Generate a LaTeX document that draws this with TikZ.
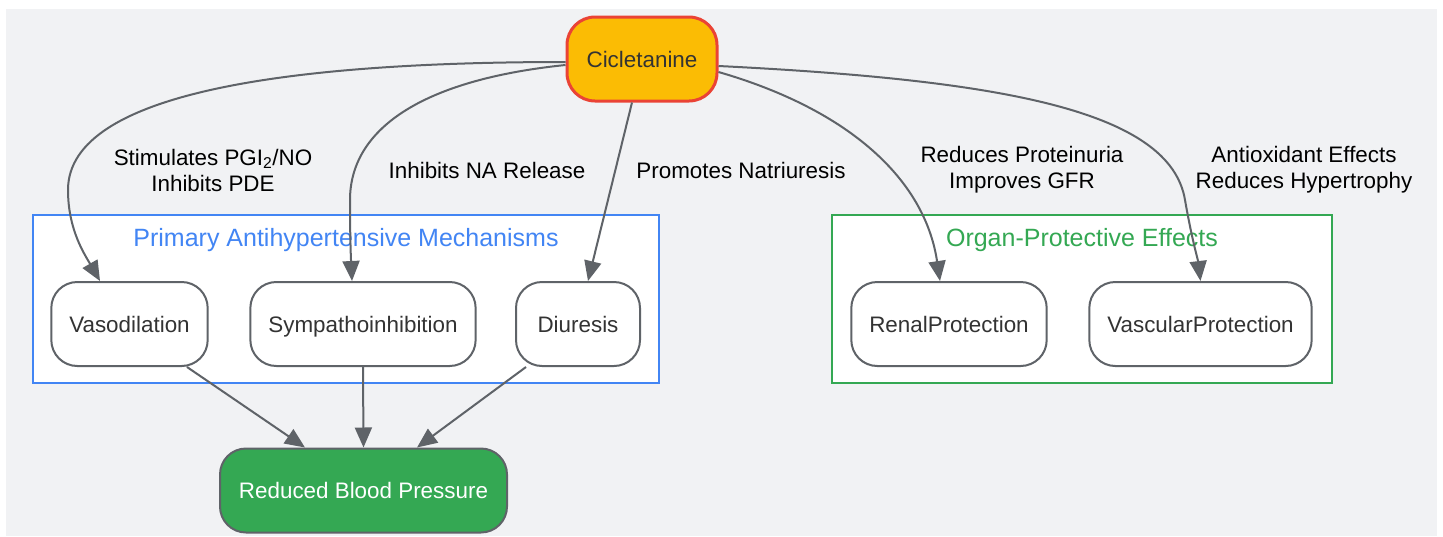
\documentclass[tikz,border=0pt]{standalone}
\usepackage{fontspec}
\setmainfont{Liberation Sans}
\usetikzlibrary{arrows.meta}
\definecolor{fondo}{HTML}{F1F2F4}
\definecolor{gris}{HTML}{5F6368}
\definecolor{texto}{HTML}{333333}
\definecolor{ambar}{HTML}{FBBC04}
\definecolor{rojo}{HTML}{EA4335}
\definecolor{verde}{HTML}{34A853}
\definecolor{azul}{HTML}{4285F4}
\begin{document}
\begin{tikzpicture}[x=1pt, y=-1pt, ->, >={Triangle[length=20pt,width=17pt]}, line width=2pt,
  caja/.style={draw=gris, line width=2pt, rounded corners=26pt, fill=white, text=texto,
    minimum height=84pt, inner xsep=18pt, text height=16pt, text depth=0pt,
    font=\fontsize{22.4}{27}\selectfont},
  grupo/.style={line width=2pt, fill=white, inner sep=0pt, minimum height=168pt},
  titulo/.style={font=\fontsize{25}{30}\selectfont},
  etiqueta/.style={text=black, align=center, font=\fontsize{22.4}{26}\selectfont}]
\useasboundingbox (0,0) rectangle (1443,536);
\fill [fondo] (6,9) rectangle (1437,536);
% Grupos
\node [grupo, draw=azul, minimum width=626pt] (G1) at (346,299) {};
\node [grupo, draw=verde, minimum width=500pt] (G2) at (1082,299) {};
\node [titulo, text=azul] (G1t) at (346,240) {Primary Antihypertensive Mechanisms};
\node [titulo, text=verde] (G2t) at (1082,240) {Organ-Protective Effects};
% Nodos
\node [caja, fill=ambar, draw=rojo, line width=3pt, minimum width=150pt, rounded corners=28pt] (C) at (642,59) {Cicletanine};
\node [caja] (V)  at (129.5,324) {Vasodilation};
\node [caja] (S)  at (363,324) {Sympathoinhibition};
\node [caja, minimum width=124pt] (D)  at (578,324) {Diuresis};
\node [caja] (R)  at (949,324) {RenalProtection};
\node [caja] (VP) at (1200.5,324) {VascularProtection};
\node [caja, fill=verde, text=white, minimum width=287pt] (P) at (363.5,490.5) {Reduced Blood Pressure};
% Etiquetas
\node [etiqueta] (e1) at (213,170) {Stimulates PGI\textsubscript{2}/NO\\Inhibits PDE};
\node [etiqueta] (e2) at (487,170) {Inhibits NA Release};
\node [etiqueta] (e3) at (741,170) {Promotes Natriuresis};
\node [etiqueta] (e4) at (1022,170) {Reduces Proteinuria\\Improves GFR};
\node [etiqueta] (e5) at (1304,170) {Antioxidant Effects\\Reduces Hypertrophy};
% Aristas
\draw [gris] ([yshift=-3pt]C.west) .. controls (300,62) and (68,90) .. (68,190)
  .. controls (68,230) and (85,255) .. ([xshift=-29.5pt]V.north);
\draw [gris] ([yshift=-6pt]C.west) .. controls (420,80) and (350,130) .. (350,200)
  .. controls (350,240) and (351,260) .. ([xshift=-11pt]S.north);
\draw [gris] ([xshift=-10pt]C.south) -- ([xshift=10pt]D.north);
\draw [gris] ([yshift=-13pt]C.east) .. controls (850,110) and (925,180) .. ([xshift=-9pt]R.north);
\draw [gris] ([yshift=-7pt]C.east) .. controls (1000,80) and (1170,110) .. (1185,200)
  .. controls (1192,240) and (1198,260) .. (VP.north);
\draw [gris] ([xshift=57.5pt]V.south) -- ([xshift=-58.5pt]P.north);
\draw [gris] (S.south) -- (P.north);
\draw [gris] ([xshift=-52pt]D.south) -- ([xshift=53.5pt]P.north);
\end{tikzpicture}
\end{document}
